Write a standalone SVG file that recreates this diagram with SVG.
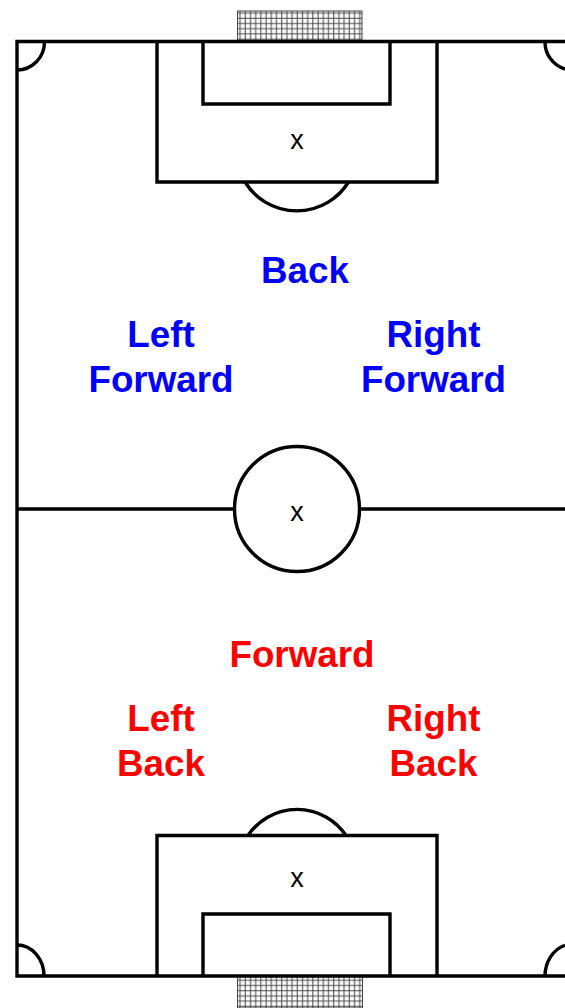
<svg xmlns="http://www.w3.org/2000/svg" width="565" height="1008" viewBox="0 0 565 1008">
<style>
.l{fill:none;stroke:#000;stroke-width:3.4}
text{font-family:"Liberation Sans",Arial,sans-serif;text-anchor:middle}
.b{font-weight:bold;font-size:36.8px;fill:#0000ff}
.r{font-weight:bold;font-size:36.8px;fill:#ff0000}
.x{font-size:27px;fill:#000}
</style>
<defs>
<pattern id="net" width="10.4" height="10.4" patternUnits="userSpaceOnUse" x="237.5" y="10.5">
<path d="M2.6 0V10.4M7.8 0V10.4M0 2.6H10.4M0 7.8H10.4" stroke="#444" stroke-width="1" fill="none"/>
</pattern>
</defs>
<g id="goal-top"><rect x="237.5" y="11" width="124.5" height="31" fill="url(#net)" stroke="#444" stroke-width="1"/></g>
<g id="goal-bottom"><rect x="237.5" y="976" width="125" height="32" fill="url(#net)" stroke="#444" stroke-width="1"/></g>
<g id="pitch">
<path class="l" d="M565 41.5H17V976H565"/>
<path class="l" d="M44.5 42A27.500 28 0 0 1 17 70"/>
<path class="l" d="M545 42A28 28 0 0 0 565 69"/>
<path class="l" d="M17 945A27 31 0 0 1 44 976"/>
<path class="l" d="M545 976A28 32 0 0 1 565 945.300"/>
<path class="l" d="M17 509H235M359 509H565"/>
<circle class="l" cx="297" cy="509" r="62.5"/>
</g>
<g id="area-top">
<path class="l" d="M157 42V182H437V42"/>
<path class="l" d="M203 42V104H390V42"/>
<path class="l" d="M245 182A60.800 60.800 0 0 0 348.500 182"/>
<text class="x" x="297" y="149">x</text>
</g>
<g id="area-bottom">
<path class="l" d="M157 976V835.500H437V976"/>
<path class="l" d="M248 835.500A59 59 0 0 1 346 835.500"/>
<path class="l" d="M203 976V914H390V976"/>
<text class="x" x="297" y="887">x</text>
</g>
<g id="center-mark"><text class="x" x="297" y="521">x</text></g>
<g id="back"><text class="b" x="305" y="283">Back</text></g>
<g id="left-forward"><text class="b" x="161" y="347">Left</text><text class="b" x="161" y="392">Forward</text></g>
<g id="right-forward"><text class="b" x="433.500" y="347">Right</text><text class="b" x="433.500" y="392">Forward</text></g>
<g id="forward"><text class="r" x="302" y="667">Forward</text></g>
<g id="left-back"><text class="r" x="161" y="731">Left</text><text class="r" x="161" y="776">Back</text></g>
<g id="right-back"><text class="r" x="433.500" y="731">Right</text><text class="r" x="433.500" y="776">Back</text></g>
<g id="connectors"></g>
</svg>
